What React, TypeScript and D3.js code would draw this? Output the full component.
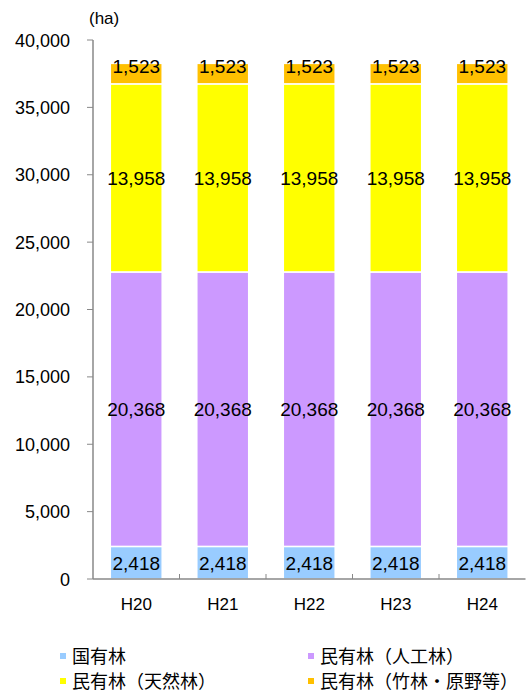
import React, { useEffect, useRef } from 'react'
import * as d3 from 'd3'

const years = ['H20', 'H21', 'H22', 'H23', 'H24']
const seriesNames = ['国有林', '民有林（人工林）', '民有林（天然林）', '民有林（竹林・原野等）']
const kokuyu = [2418, 2418, 2418, 2418, 2418]
const jinko = [20368, 20368, 20368, 20368, 20368]
const tennen = [13958, 13958, 13958, 13958, 13958]
const chikurin = [1523, 1523, 1523, 1523, 1523]
const yTicks = [0, 5000, 10000, 15000, 20000, 25000, 30000, 35000, 40000]
const colors = ['#99CCFF', '#CC99FF', '#FFFF00', '#FFC000']

const NUM_FONT = '"Liberation Sans", Arial, sans-serif'
const JP_FONT = '"Noto Sans CJK JP", "Noto Sans", sans-serif'

const App = () => {
  const ref = useRef<SVGSVGElement>(null)

  useEffect(() => {
    const svg = d3.select(ref.current)
    svg.selectAll('*').remove()

    const left = 93
    const right = 525.5
    const top = 40
    const bottom = 579

    const x = d3.scaleBand().domain(years).range([left, right]).paddingInner(0.4).paddingOuter(0.2)
    const xb = d3.scaleBand().domain(years).range([left, right])
    const y = d3.scaleLinear().domain([0, 40000]).range([bottom, top])

    const rows = years.map((yr, i) => ({ yr, s0: kokuyu[i], s1: jinko[i], s2: tennen[i], s3: chikurin[i] }))
    const stacked = d3.stack<any>().keys(['s0', 's1', 's2', 's3'])(rows)

    svg // bars
      .append('g')
      .selectAll('g')
      .data(stacked)
      .enter()
      .append('g')
      .attr('fill', (_d, i) => colors[i])
      .selectAll('rect')
      .data(d => d)
      .enter()
      .append('rect')
      .attr('x', d => x(d.data.yr)!)
      .attr('y', d => y(d[1]))
      .attr('width', x.bandwidth())
      .attr('height', d => y(d[0]) - y(d[1]))
      .attr('stroke', '#fff')
      .attr('stroke-width', 1.5)

    svg // value labels
      .append('g')
      .selectAll('g')
      .data(stacked)
      .enter()
      .append('g')
      .selectAll('text')
      .data((d, i) => d.map(p => ({ p, top: i === stacked.length - 1 })))
      .enter()
      .append('text')
      .text(d => d3.format(',')(d.p[1] - d.p[0]))
      .attr('x', d => x(d.p.data.yr)! + x.bandwidth() / 2)
      .attr('y', d => (d.top ? y(d.p[1]) + 10 : (y(d.p[0]) + y(d.p[1])) / 2 + 7))
      .attr('text-anchor', 'middle')
      .attr('font-size', '19px')
      .attr('font-family', NUM_FONT)
      .attr('fill', '#000')

    // yaxis
    const ya = svg.append('g')
    ya.append('line')
      .attr('x1', left).attr('x2', left).attr('y1', top).attr('y2', bottom)
      .attr('stroke', '#888').attr('stroke-width', 1.5)
    ya.selectAll('line.t')
      .data(yTicks)
      .enter()
      .append('line')
      .attr('x1', left - 6).attr('x2', left)
      .attr('y1', d => y(d)).attr('y2', d => y(d))
      .attr('stroke', '#888')
    ya.selectAll('text')
      .data(yTicks)
      .enter()
      .append('text')
      .text(d => d3.format(',')(d))
      .attr('x', 70)
      .attr('y', d => y(d) + 6.5)
      .attr('text-anchor', 'end')
      .attr('font-size', '18px')
      .attr('font-family', NUM_FONT)
      .attr('fill', '#000')

    // xaxis
    const xa = svg.append('g')
    xa.append('line')
      .attr('x1', left).attr('x2', right).attr('y1', bottom).attr('y2', bottom)
      .attr('stroke', '#888').attr('stroke-width', 1.5)
    xa.selectAll('line.t')
      .data(years.slice(1))
      .enter()
      .append('line')
      .attr('x1', d => xb(d)!).attr('x2', d => xb(d)!)
      .attr('y1', bottom - 5).attr('y2', bottom)
      .attr('stroke', '#888')
    xa.selectAll('text')
      .data(years)
      .enter()
      .append('text')
      .text(d => d)
      .attr('x', d => xb(d)! + xb.bandwidth() / 2)
      .attr('y', 610)
      .attr('text-anchor', 'middle')
      .attr('font-size', '17px')
      .attr('font-family', NUM_FONT)
      .attr('fill', '#000')

    svg // unit
      .append('text')
      .text('(ha)')
      .attr('x', 89)
      .attr('y', 24)
      .attr('font-size', '17px')
      .attr('font-family', NUM_FONT)

    // legend
    const lg = svg.append('g')
    const pos = [[60, 663], [308, 663], [60, 688], [308, 688]]
    seriesNames.forEach((name, i) => {
      lg.append('rect')
        .attr('x', pos[i][0]).attr('y', pos[i][1] - 10)
        .attr('width', 6).attr('height', 6)
        .attr('fill', colors[i])
      lg.append('text')
        .text(name)
        .attr('x', pos[i][0] + 12)
        .attr('y', pos[i][1])
        .attr('font-size', '18px')
        .attr('font-family', JP_FONT)
        .attr('fill', '#000')
    })
  }, [])

  return <svg width={529} height={695} ref={ref} style={{ position: 'absolute', left: 0, top: 0 }} />
}

export default App
